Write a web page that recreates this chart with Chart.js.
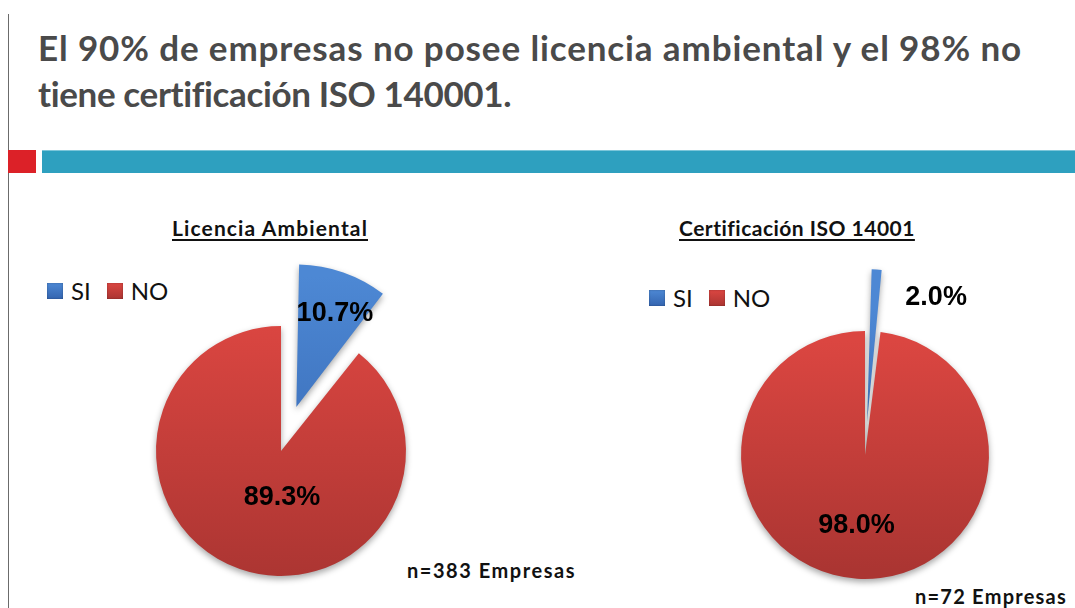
<!DOCTYPE html>
<html>
<head>
<meta charset="utf-8">
<script src="https://cdn.jsdelivr.net/npm/chart.js@4"></script>
<style>
body { margin: 0; width: 1075px; height: 608px; overflow: hidden; background: #fff; position: relative; font-family: Lato, 'Open Sans', sans-serif; }
.vline { position: absolute; left: 8px; top: 14px; width: 1px; height: 600px; background: #6b6b6b; }
.title { position: absolute; left: 38px; font-size: 35px; font-weight: 700; color: #4a4a4a; line-height: 1; white-space: nowrap; }
.redbox { position: absolute; left: 8px; top: 150px; width: 28px; height: 23px; background: #dc2128; }
.tealbar { position: absolute; left: 42px; top: 150px; width: 1040px; height: 23px; background: #2ea0bf; border-top: 1px solid #7cc6da; box-sizing: border-box; }
.sub { position: absolute; font-size: 21px; font-weight: 700; color: #111; text-decoration: underline; text-underline-offset: 3px; line-height: 1; white-space: nowrap; }
.legend { position: absolute; font-size: 24px; color: #111; line-height: 1; white-space: nowrap; display: flex; align-items: center; }
.legend span.box { display: inline-block; width: 16px; height: 16px; margin-right: 8px; box-shadow: inset 0 0 2px rgba(0,0,0,0.35); }
.legend span.txt { margin-right: 16px; }
.note { position: absolute; font-size: 20px; font-weight: 700; color: #111; line-height: 1; white-space: nowrap; }
canvas { position: absolute; }
</style>
</head>
<body>
<div class="vline"></div>
<div class="title" id="t1" style="top:30px" data-w="984">El 90% de empresas no posee licencia ambiental y el 98% no</div>
<div class="title" id="t2" style="top:76px" data-w="474">tiene certificación ISO 140001.</div>
<div class="redbox"></div>
<div class="tealbar"></div>

<div class="sub" style="left:172px;top:217px" data-w="196">Licencia Ambiental</div>
<div class="sub" style="left:679px;top:217px" data-w="236">Certificación ISO 14001</div>

<div class="legend" id="legend1" style="left:47px;top:279px"></div>
<div class="legend" id="legend2" style="left:649px;top:286px"></div>

<div class="note" style="left:407px;top:560px" data-w="169">n=383 Empresas</div>
<div class="note" style="left:915px;top:586px" data-w="152">n=72 Empresas</div>

<canvas id="chart1" width="436" height="436" style="left:63px;top:233px"></canvas>
<canvas id="chart2" width="380" height="380" style="left:675px;top:265px"></canvas>

<script>
// 数据
var categories = ['SI', 'NO'];
var licenciaValues = [10.7, 89.3];
var certificacionValues = [2.0, 98.0];

// 样式
var topColors = ['#4d88d4', '#db4641'];
var bottomColors = ['#3465b0', '#ab3532'];
var licenciaOffsets = [186, 0];
var certificacionOffsets = [132, 0];
var licenciaLabelRadius = [1.21, 0.365];
var certificacionLabelRadius = [1.3, 0.565];
var licenciaLabelShift = [[4, 5], [16, 3]];
var certificacionLabelShift = [[61, 3], [-4, 1]];

// 让文字宽度与原图一致
function fitWidth(el) {
    var target = parseFloat(el.getAttribute('data-w'));
    var len = el.textContent.length;
    var w = el.getBoundingClientRect().width;
    el.style.letterSpacing = ((target - w) / len) + 'px';
}
var fits = document.querySelectorAll('[data-w]');
for (var i = 0; i < fits.length; i++) fitWidth(fits[i]);

function buildLegend(id) {
    var box = document.getElementById(id);
    var html = '';
    for (var i = 0; i < categories.length; i++) {
        html += '<span class="box" style="background:linear-gradient(' + topColors[i] + ',' + bottomColors[i] + ')"></span>' +
            '<span class="txt">' + categories[i] + '</span>';
    }
    box.innerHTML = html;
}
buildLegend('legend1');
buildLegend('legend2');

// 渐变填充
function sliceGradient(context) {
    var i = context.dataIndex;
    var chart = context.chart;
    var area = chart.chartArea;
    if (!area) return topColors[i];
    var g = chart.ctx.createLinearGradient(0, area.top, 0, area.bottom);
    g.addColorStop(0.2, topColors[i]);
    g.addColorStop(0.8, bottomColors[i]);
    return g;
}

// 阴影
var shadowPlugin = {
    id: 'shadow',
    beforeDatasetsDraw: function(chart) {
        var ctx = chart.ctx;
        ctx.save();
        ctx.shadowColor = 'rgba(0,0,0,0.35)';
        ctx.shadowBlur = 6;
        ctx.shadowOffsetY = 3;
    },
    afterDatasetsDraw: function(chart) {
        chart.ctx.restore();
    }
};

// 百分比标签
var pctLabels = {
    id: 'pctLabels',
    afterDraw: function(chart, args, opts) {
        var ctx = chart.ctx;
        var meta = chart.getDatasetMeta(0);
        var values = chart.data.datasets[0].data;
        ctx.save();
        ctx.font = 'bold 27px "Liberation Sans", Arial, sans-serif';
        ctx.fillStyle = '#000';
        ctx.textAlign = 'center';
        ctx.textBaseline = 'middle';
        for (var i = 0; i < meta.data.length; i++) {
            var arc = meta.data[i];
            var mid = (arc.startAngle + arc.endAngle) / 2;
            var r = arc.outerRadius * opts.radius[i];
            var x = arc.x + Math.cos(mid) * r + opts.shift[i][0];
            var y = arc.y + Math.sin(mid) * r + opts.shift[i][1];
            ctx.fillText(values[i].toFixed(1) + '%', x, y);
        }
        ctx.restore();
    }
};

function makePie(id, values, offsets, labelRadius, labelShift) {
    return new Chart(document.getElementById(id), {
        type: 'pie',
        data: {
            labels: categories,
            datasets: [{
                data: values,
                backgroundColor: sliceGradient,
                borderWidth: 0,
                offset: offsets
            }]
        },
        options: {
            responsive: false,
            animation: false,
            events: [],
            layout: { padding: 0 },
            plugins: {
                legend: { display: false },
                title: { display: false },
                tooltip: { enabled: false },
                pctLabels: { radius: labelRadius, shift: labelShift }
            }
        },
        plugins: [shadowPlugin, pctLabels]
    });
}

makePie('chart1', licenciaValues, licenciaOffsets, licenciaLabelRadius, licenciaLabelShift);
makePie('chart2', certificacionValues, certificacionOffsets, certificacionLabelRadius, certificacionLabelShift);
</script>
</body>
</html>
